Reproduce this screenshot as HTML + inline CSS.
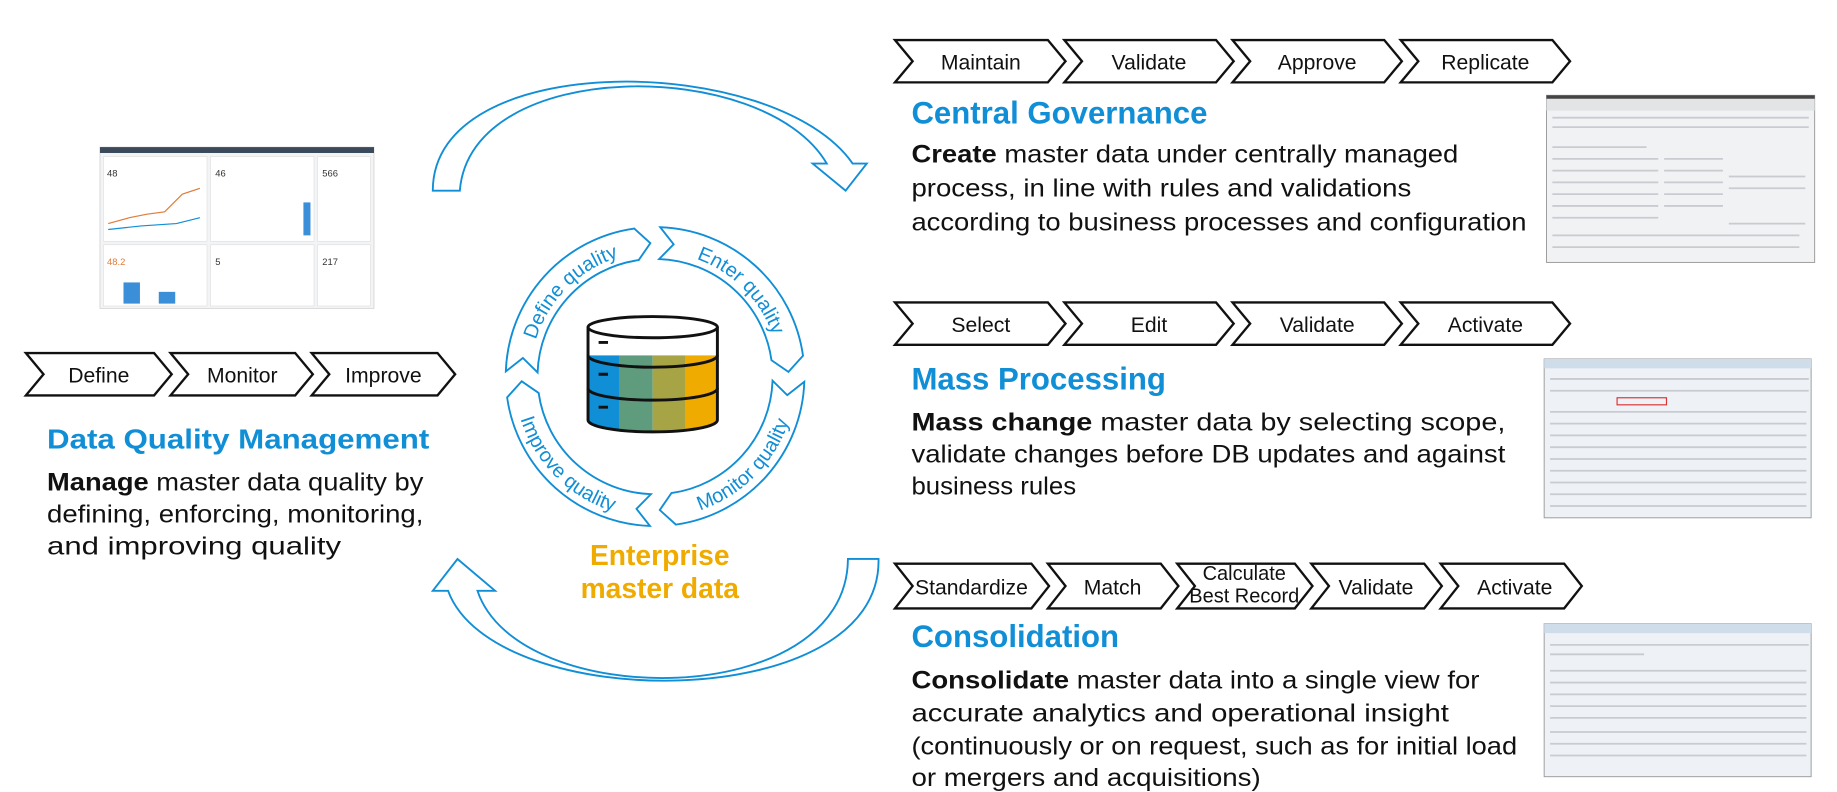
<!DOCTYPE html>
<html><head><meta charset="utf-8"><style>
html,body{margin:0;padding:0;background:#fff;width:1837px;height:792px;overflow:hidden}
svg{display:block}
text{font-family:"Liberation Sans",Arial,sans-serif}
</style></head><body>
<svg width="1837" height="792" viewBox="0 0 1562 673" preserveAspectRatio="none" xmlns="http://www.w3.org/2000/svg">
<rect width="1562" height="673" fill="#fff"/>

<!-- big arrows -->
<path d="M368,162 C368,40 660,45 725,139 L737,139 L719,162 L691,139 L703,139 C650,48 400,48 391,162 Z" fill="#fff" stroke="#108ed6" stroke-width="1.6"/>
<path d="M747,475 C750,608 420,608 381,502 L368,502 L389,475 L421,502 L406,502 C440,605 720,605 721,475 Z" fill="#fff" stroke="#108ed6" stroke-width="1.6"/>

<!-- ring -->
<g transform="translate(7,2)" fill="#fff" stroke="#108ed6" stroke-width="1.6">
<path d="M423.1,313.6 A127,127 0 0 1 532.3,192.2 L546,204.6 L536.1,219 A100,100 0 0 0 450.1,314.5 L437.6,302.2 Z"/>
<path d="M554.4,191.1 A127,127 0 0 1 675.8,300.3 L663.4,314 L649,304.1 A100,100 0 0 0 553.5,218.1 L565.8,205.6 Z"/>
<path d="M676.9,322.4 A127,127 0 0 1 567.7,443.8 L554,431.4 L563.9,417 A100,100 0 0 0 649.9,321.5 L662.4,333.8 Z"/>
<path d="M545.6,444.9 A127,127 0 0 1 424.2,335.7 L436.6,322 L451,331.9 A100,100 0 0 0 546.5,417.9 L534.2,430.4 Z"/>
<path id="tp1" d="M444.4,308.8 A106,106 0 0 1 540.8,212.4" fill="none" stroke="none"/>
<path id="tp2" d="M559.2,212.4 A106,106 0 0 1 655.6,308.8" fill="none" stroke="none"/>
<path id="tp3" d="M560.5,437.5 A120,120 0 0 0 669.5,328.5" fill="none" stroke="none"/>
<path id="tp4" d="M430.5,328.5 A120,120 0 0 0 539.5,437.5" fill="none" stroke="none"/>
</g>
<g transform="translate(7,2)" fill="#108ed6" stroke="none" font-size="17">
<text><textPath href="#tp1" startOffset="50%" text-anchor="middle">Define quality</textPath></text>
<text><textPath href="#tp2" startOffset="50%" text-anchor="middle">Enter quality</textPath></text>
<text><textPath href="#tp3" startOffset="50%" text-anchor="middle">Monitor quality</textPath></text>
<text><textPath href="#tp4" startOffset="50%" text-anchor="middle">Improve quality</textPath></text>
</g>

<!-- database -->
<defs>
<clipPath id="dbc"><path d="M500,278 L500,357 A55,10 0 0 0 610,357 L610,278 Z"/></clipPath>
</defs>
<g clip-path="url(#dbc)">
<rect x="498" y="270" width="115" height="32" fill="#fff"/>
<rect x="498" y="302" width="29" height="70" fill="#108ed6"/>
<rect x="527" y="302" width="28" height="70" fill="#5f9c7e"/>
<rect x="555" y="302" width="28" height="70" fill="#a7a446"/>
<rect x="583" y="302" width="30" height="70" fill="#f0ab00"/>
</g>
<g fill="none" stroke="#111" stroke-width="2.5">
<path d="M500,278 L500,357 A55,10 0 0 0 610,357 L610,278"/>
<ellipse cx="555" cy="278" rx="55" ry="9" fill="#fff"/>
<path d="M500,302 A55,10 0 0 0 610,302"/>
<path d="M500,330 A55,10 0 0 0 610,330"/>
<path d="M509,291 h8 M509,318 h8 M509,346 h8"/>
</g>
<text x="561" y="480" font-size="24" font-weight="bold" fill="#f0ab00" text-anchor="middle">Enterprise</text>
<text x="561" y="508" font-size="24" font-weight="bold" fill="#f0ab00" text-anchor="middle">master data</text>

<!-- chevrons -->
<g fill="#fff" stroke="#111" stroke-width="2">
<polygon points="761,34 891,34 906,52 891,70 761,70 776,52"/>
<polygon points="905,34 1034,34 1049,52 1034,70 905,70 920,52"/>
<polygon points="1048,34 1177,34 1192,52 1177,70 1048,70 1063,52"/>
<polygon points="1191,34 1320,34 1335,52 1320,70 1191,70 1206,52"/>
<polygon points="761,257 891,257 906,275 891,293 761,293 776,275"/>
<polygon points="905,257 1034,257 1049,275 1034,293 905,293 920,275"/>
<polygon points="1048,257 1177,257 1192,275 1177,293 1048,293 1063,275"/>
<polygon points="1191,257 1320,257 1335,275 1320,293 1191,293 1206,275"/>
<polygon points="761,479 877,479 892,498 877,517 761,517 776,498"/>
<polygon points="891,479 987,479 1002,498 987,517 891,517 906,498"/>
<polygon points="1001,479 1101,479 1116,498 1101,517 1001,517 1016,498"/>
<polygon points="1115,479 1211,479 1226,498 1211,517 1115,517 1130,498"/>
<polygon points="1225,479 1330,479 1345,498 1330,517 1225,517 1240,498"/>
<polygon points="22,300 131,300 146,318 131,336 22,336 37,318"/>
<polygon points="145,300 251,300 266,318 251,336 145,336 160,318"/>
<polygon points="265,300 372,300 387,318 372,336 265,336 280,318"/>
</g>
<g font-size="18" fill="#111" text-anchor="middle">
<text x="834" y="59">Maintain</text>
<text x="977" y="59">Validate</text>
<text x="1120" y="59">Approve</text>
<text x="1263" y="59">Replicate</text>
<text x="834" y="282">Select</text>
<text x="977" y="282">Edit</text>
<text x="1120" y="282">Validate</text>
<text x="1263" y="282">Activate</text>
<text x="826" y="505">Standardize</text>
<text x="946" y="505">Match</text>
<text x="1058" y="493" font-size="17">Calculate</text>
<text x="1058" y="512" font-size="17">Best Record</text>
<text x="1170" y="505">Validate</text>
<text x="1288" y="505">Activate</text>
<text x="84" y="325">Define</text>
<text x="206" y="325">Monitor</text>
<text x="326" y="325">Improve</text>
</g>

<!-- headings & bodies -->
<g font-weight="bold" fill="#108ed6">
<text x="775" y="105" font-size="26.5">Central Governance</text>
<text x="775" y="331" font-size="26.5">Mass Processing</text>
<text x="775" y="550" font-size="26.5">Consolidation</text>
<text x="40" y="381" font-size="23.5" textLength="325" lengthAdjust="spacingAndGlyphs">Data Quality Management</text>
</g>
<g font-size="21.5" fill="#111">
<text x="775" y="138" textLength="465" lengthAdjust="spacingAndGlyphs"><tspan font-weight="bold">Create</tspan> master data under centrally managed</text>
<text x="775" y="167" textLength="425" lengthAdjust="spacingAndGlyphs">process, in line with rules and validations</text>
<text x="775" y="196" textLength="523" lengthAdjust="spacingAndGlyphs">according to business processes and configuration</text>
<text x="775" y="366" textLength="505" lengthAdjust="spacingAndGlyphs"><tspan font-weight="bold">Mass change</tspan> master data by selecting scope,</text>
<text x="775" y="393" textLength="505" lengthAdjust="spacingAndGlyphs">validate changes before DB updates and against</text>
<text x="775" y="420" textLength="140" lengthAdjust="spacingAndGlyphs">business rules</text>
<text x="775" y="585" textLength="483" lengthAdjust="spacingAndGlyphs"><tspan font-weight="bold">Consolidate</tspan> master data into a single view for</text>
<text x="775" y="613" textLength="457" lengthAdjust="spacingAndGlyphs">accurate analytics and operational insight</text>
<text x="775" y="641" textLength="515" lengthAdjust="spacingAndGlyphs">(continuously or on request, such as for initial load</text>
<text x="775" y="668" textLength="297" lengthAdjust="spacingAndGlyphs">or mergers and acquisitions)</text>
<text x="40" y="417" textLength="320" lengthAdjust="spacingAndGlyphs"><tspan font-weight="bold">Manage</tspan> master data quality by</text>
<text x="40" y="444" textLength="320" lengthAdjust="spacingAndGlyphs">defining, enforcing, monitoring,</text>
<text x="40" y="471" textLength="250" lengthAdjust="spacingAndGlyphs">and improving quality</text>
</g>

<!-- left screenshot -->
<g>
<rect x="85" y="125" width="233" height="137" fill="#f2f4f6" stroke="#ccc" stroke-width="0.6"/>
<rect x="85" y="125" width="233" height="5" fill="#3b4a5a"/>
<g fill="#fff" stroke="#ddd" stroke-width="0.5">
<rect x="88" y="133" width="88" height="72"/><rect x="179" y="133" width="88" height="72"/><rect x="270" y="133" width="45" height="72"/>
<rect x="88" y="208" width="88" height="52"/><rect x="179" y="208" width="88" height="52"/><rect x="270" y="208" width="45" height="52"/>
</g>
<polyline points="92,190 110,185 125,182 140,180 155,165 170,160" fill="none" stroke="#e07b39" stroke-width="1"/>
<polyline points="92,195 120,192 150,190 170,185" fill="none" stroke="#108ed6" stroke-width="1"/>
<rect x="258" y="172" width="6" height="28" fill="#3a8fd8"/>
<rect x="105" y="240" width="14" height="18" fill="#3a8fd8"/><rect x="135" y="248" width="14" height="10" fill="#3a8fd8"/>
<text x="91" y="150" font-size="8" fill="#333">48</text><text x="183" y="150" font-size="8" fill="#333">46</text><text x="274" y="150" font-size="8" fill="#333">566</text>
<text x="91" y="225" font-size="8" fill="#e07b39">48.2</text><text x="183" y="225" font-size="8" fill="#333">5</text><text x="274" y="225" font-size="8" fill="#333">217</text>
</g>

<!-- right screenshots -->
<g stroke="#999" stroke-width="0.8">
<rect x="1315" y="81" width="228" height="142" fill="#f0f2f4"/>
<rect x="1313" y="305" width="227" height="135" fill="#eef2f6"/>
<rect x="1313" y="530" width="227" height="130" fill="#eef2f6"/>
</g>
<rect x="1315" y="81" width="228" height="3" fill="#444"/>
<rect x="1315" y="84" width="228" height="10" fill="#e2e4e6"/>
<rect x="1313" y="305" width="227" height="8" fill="#cfdcea"/>
<rect x="1313" y="530" width="227" height="8" fill="#cfdcea"/>
<g stroke="#c8ccd0" stroke-width="1.5">
<path d="M1320,100 h218 M1320,108 h218 M1320,125 h80 M1320,135 h90 M1320,145 h90 M1320,155 h90 M1320,165 h90 M1320,175 h90 M1320,185 h90 M1320,200 h210 M1320,210 h210 M1415,135 h50 M1415,145 h50 M1415,155 h50 M1415,165 h50 M1415,175 h50 M1470,150 h65 M1470,160 h65 M1470,190 h65"/>
<path d="M1318,322 h220 M1318,332 h220 M1318,350 h218 M1318,360 h218 M1318,370 h218 M1318,380 h218 M1318,390 h218 M1318,400 h218 M1318,410 h218 M1318,420 h218 M1318,430 h218"/>
<path d="M1318,548 h220 M1318,556 h80 M1318,570 h218 M1318,580 h218 M1318,590 h218 M1318,600 h218 M1318,610 h218 M1318,622 h218 M1318,632 h218 M1318,642 h218"/>
</g>
<rect x="1375" y="338" width="42" height="6" fill="none" stroke="#d33" stroke-width="1"/>
</svg>
</body></html>
